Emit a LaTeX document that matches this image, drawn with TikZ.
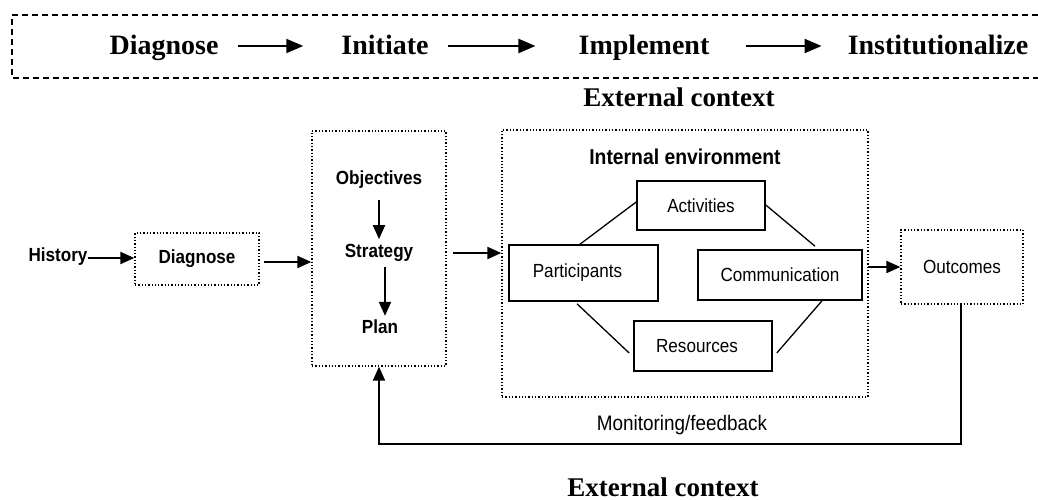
\documentclass[tikz,border=0pt]{standalone}
\usepackage{fontspec}
\setmainfont{Liberation Serif}
\setsansfont{Liberation Sans}
\newfontfamily\narrowsans{Liberation Sans}[FakeStretch=0.9]
\usetikzlibrary{arrows.meta}
\begin{document}
\begin{tikzpicture}[x=1pt,y=-1pt,
  stage/.style={font=\rmfamily\bfseries\fontsize{28}{30}\selectfont,inner sep=0pt,anchor=base},
  ctx/.style={font=\rmfamily\bfseries\fontsize{27}{30}\selectfont,inner sep=0pt,anchor=base},
  lbl/.style={font=\narrowsans\bfseries\fontsize{19}{21}\selectfont,inner sep=0pt},
  txt/.style={font=\narrowsans\fontsize{19}{21}\selectfont},
  dotbox/.style={draw,dotted,line width=1.3pt},
  solidbox/.style={draw,line width=1.6pt,font=\narrowsans\fontsize{19}{21}\selectfont},
  arr/.style={line width=2pt,-{Triangle[length=14pt,width=12pt]}},
  toparr/.style={line width=2pt,-{Triangle[length=17pt,width=14pt]}},
  link/.style={line width=1.3pt}]
\useasboundingbox (0,0) rectangle (1038,500);

% phase band along the top
\draw[dashed,line width=1.2pt,dash pattern=on 6pt off 4pt]
  (1038,15) -- (12,15) -- (12,78) -- (1038,78);
\node[stage] (tdiag) at (164,55) {Diagnose};
\node[stage] (tinit) at (385,55) {Initiate};
\node[stage] (timpl) at (644,55) {Implement};
\node[stage] (tinst) at (938,55) {Institutionalize};
\draw[toparr] ([xshift=19pt,yshift=9pt]tdiag.base east) -- ([xshift=-38pt,yshift=9pt]tinit.base west);
\draw[toparr] ([xshift=19pt,yshift=9pt]tinit.base east) -- ([xshift=-43pt,yshift=9pt]timpl.base west);
\draw[toparr] ([xshift=36pt,yshift=9pt]timpl.base east) -- ([xshift=-26pt,yshift=9pt]tinst.base west);

% context labels
\node[ctx] (ctxtop) at (679,107) {External context};
\node[ctx] (ctxbot) at (663,496) {External context};

% history and diagnosis
\node[lbl] (hist) at (58,257) {History};
\node[dotbox,minimum width=124pt,minimum height=52pt,lbl] (diag) at (197,259) {Diagnose};
\draw[arr] (hist.east) ++(0,1) coordinate (h1) -- (h1 -| diag.west);

% objectives / strategy / plan
\node[dotbox,minimum width=134pt,minimum height=235pt] (objbox) at (379,248.5) {};
\node[lbl] (obj) at (379,180) {Objectives};
\node[lbl] (strat) at (379,253) {Strategy};
\node[lbl] (plan) at (380,327) {Plan};
\draw[arr] ([yshift=-11pt]obj.south) -- ([yshift=5pt]strat.north);
\draw[arr] ([xshift=6pt,yshift=-5pt]strat.south) -- ([xshift=5pt,yshift=4pt]plan.north);
\draw[arr] ([xshift=4pt,yshift=-3pt]diag.east) coordinate (d1) -- (d1 -| objbox.west);

% internal environment
\node[font=\narrowsans\bfseries\fontsize{21.5}{23}\selectfont,inner sep=0pt] (intlbl) at (685,157) {Internal environment};
\node[dotbox,minimum width=366pt,minimum height=267pt] (intbox) at (685,263.5) {};
\draw[arr] ([xshift=6pt]objbox.east |- strat) coordinate (s1) -- (s1 -| intbox.west);

\node[solidbox,minimum width=128pt,minimum height=49pt] (act) at (701,205.5) {Activities};
\node[solidbox,minimum width=149pt,minimum height=56pt] (part) at (583.5,273) {\hspace*{-12pt}Participants};
\node[solidbox,minimum width=164pt,minimum height=50pt] (comm) at (780,275) {Communication};
\node[solidbox,minimum width=138pt,minimum height=50pt] (res) at (703,346) {\hspace*{-12pt}Resources};

\draw[link] ([xshift=-3.5pt]part.north) -- ([yshift=3.5pt]act.west);
\draw[link] ([yshift=0.5pt]act.east) -- ([xshift=35pt,yshift=3pt]comm.north);
\draw[link] ([xshift=-6.5pt,yshift=-2pt]part.south) -- ([xshift=-4pt,yshift=-7pt]res.west);
\draw[link] ([xshift=4pt,yshift=-7pt]res.east) -- ([xshift=42pt]comm.south);

% outcomes and feedback loop
\node[dotbox,minimum width=122pt,minimum height=74pt,txt] (outc) at (962,267) {Outcomes};
\draw[arr] ([xshift=5pt,yshift=8pt]comm.east) coordinate (c1) -- (c1 -| outc.west);
\draw[arr] ([xshift=-1pt]outc.south) -- ++(0,139) -| (objbox.south);
\node[font=\narrowsans\fontsize{21}{23}\selectfont,inner sep=0pt] (mon) at (682,425) {Monitoring/feedback};
\end{tikzpicture}
\end{document}
